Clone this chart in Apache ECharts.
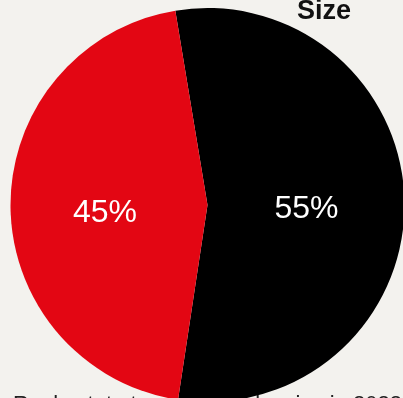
<!DOCTYPE html>
<html><head><meta charset="utf-8">
<script src="https://cdn.jsdelivr.net/npm/echarts@6/dist/echarts.min.js"></script>
<style>html,body{margin:0;padding:0;background:#f3f2ee}#c{width:403px;height:398px}</style>
</head><body><div id="c"></div>
<script>
const categories = ['Large', 'Small'];
const values = [55, 45];
const colors = ['#000000', '#e30613'];
const labelOffsets = [[-2.5, 5], [-1, 7]];
const titleText = 'Size';
const footText = 'Real estate transactions by size in 2023';

const chart = echarts.init(document.getElementById('c'), null, {renderer: 'canvas'});
chart.setOption({
  backgroundColor: '#f3f2ee',
  animation: false,
  title: [
    {text: titleText, left: 292, top: -7, z: 10,
     textStyle: {fontFamily: 'Liberation Sans, Arial', fontWeight: 'bold', fontSize: 27, color: '#111'}},
    {text: footText, left: 8, top: 389, z: 0, zlevel: 0,
     textStyle: {fontFamily: 'Liberation Sans, Arial', fontWeight: 'normal', fontSize: 22, color: '#222'}}
  ],
  series: [{
    type: 'pie',
    z: 2,
    center: [207.5, 205],
    radius: [0, 197],
    startAngle: 99.4,
    clockwise: true,
    label: {
      show: true, position: 'inner',
      formatter: p => p.value + '%',
      color: '#ffffff', fontSize: 32, fontFamily: 'Liberation Sans, Arial'
    },
    labelLine: {show: false},
    itemStyle: {borderWidth: 0},
    emphasis: {disabled: true},
    data: categories.map((c, i) => ({name: c, value: values[i], itemStyle: {color: colors[i]},
      label: {offset: labelOffsets[i]}}))
  }]
});
</script></body></html>
